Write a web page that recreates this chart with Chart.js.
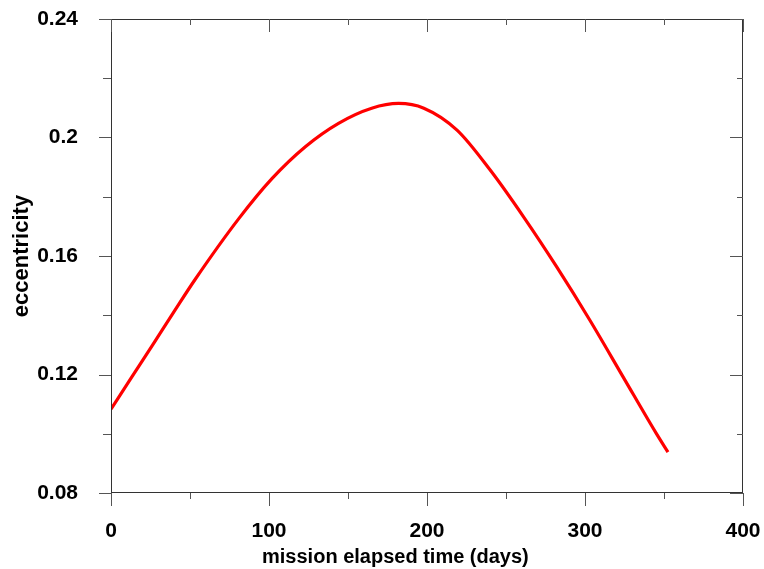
<!DOCTYPE html>
<html>
<head>
<meta charset="utf-8">
<script src="https://cdn.jsdelivr.net/npm/chart.js@4/dist/chart.umd.min.js"></script>
<style>
  body { margin: 0; background: #fff; }
  canvas { display: block; }
</style>
</head>
<body>
<canvas id="eccChart" width="764" height="569"></canvas>
<script>
// values
var missionDays = [0, 13, 27, 40, 53, 81, 102, 123, 144, 165, 182, 198, 219, 240, 261, 282, 303, 324, 345, 352.5];
var eccentricity = [0.1083, 0.119, 0.1305, 0.1413, 0.1519, 0.1727, 0.1862, 0.1969, 0.2048, 0.2099, 0.2115,
                    0.2099, 0.2025, 0.189, 0.1733, 0.1564, 0.1384, 0.1193, 0.1002, 0.0938];
var xTickLabels = ['0', '100', '200', '300', '400'];
var yTickLabels = ['0.08', '0.12', '0.16', '0.2', '0.24'];

var points = missionDays.map(function (d, i) { return { x: d, y: eccentricity[i] }; });

var fontFamily = '"Liberation Sans", Arial, sans-serif';

// frame + inward/outward tick marks drawn from the scales
var framePlugin = {
    id: 'frame',
    afterDraw: function (chart) {
        var ctx = chart.ctx;
        var a = chart.chartArea;
        var xs = chart.scales.x;
        var ys = chart.scales.y;
        ctx.save();
        ctx.strokeStyle = '#333';
        ctx.lineWidth = 1;
        ctx.strokeRect(a.left + 0.5, a.top + 0.5, a.right - a.left - 1, a.bottom - a.top - 1);
        ctx.strokeStyle = '#555';
        ctx.beginPath();
        for (var v = 0; v <= 400; v += 50) {
            var px = Math.round(xs.getPixelForValue(v)) + 0.5;
            var major = v % 100 === 0;
            ctx.moveTo(px, a.bottom);
            ctx.lineTo(px, a.bottom + (major ? 13 : 6));
            ctx.moveTo(px, a.top);
            ctx.lineTo(px, a.top + (major ? 13 : 6));
        }
        for (var k = 8; k <= 24; k += 2) {
            var py = Math.round(ys.getPixelForValue(k / 100)) + 0.5;
            var majorY = k % 4 === 0;
            ctx.moveTo(a.left, py);
            ctx.lineTo(a.left - (majorY ? 12 : 8), py);
            ctx.moveTo(a.right, py);
            ctx.lineTo(a.right - (majorY ? 13 : 6), py);
        }
        ctx.stroke();

        // x axis title
        ctx.fillStyle = '#000';
        ctx.font = 'bold 20px ' + fontFamily;
        ctx.textAlign = 'center';
        ctx.textBaseline = 'middle';
        ctx.fillText('mission elapsed time (days)', a.left + (a.right - a.left) * 0.45, 557);
        ctx.restore();
    }
};

var ctx = document.getElementById('eccChart').getContext('2d');

var myChart = new Chart(ctx, {
    type: 'line',
    data: {
        datasets: [
            {
                label: 'eccentricity',
                data: points,
                borderColor: 'rgb(255, 0, 0)',
                backgroundColor: 'rgb(255, 0, 0)',
                borderWidth: 3.2,
                pointRadius: 0,
                cubicInterpolationMode: 'monotone',
                fill: false
            }
        ]
    },
    options: {
        responsive: false,
        animation: false,
        devicePixelRatio: 1,
        layout: {
            padding: { top: 19, right: 21, left: 0, bottom: 0 }
        },
        plugins: {
            legend: { display: false },
            tooltip: { enabled: false }
        },
        scales: {
            x: {
                type: 'linear',
                min: 0,
                max: 400,
                grid: { display: false },
                border: { display: false },
                ticks: {
                    stepSize: 50,
                    autoSkip: false,
                    maxRotation: 0,
                    padding: 18,
                    color: '#000',
                    font: { family: fontFamily, size: 21, weight: 'bold' },
                    callback: function (value) {
                        var idx = xTickLabels.indexOf(String(value));
                        return idx >= 0 && value % 100 === 0 ? xTickLabels[idx] : '';
                    }
                },
                afterFit: function (scale) {
                    scale.height = 569 - 493;
                    scale.paddingLeft = 0;
                    scale.paddingRight = 0;
                }
            },
            y: {
                type: 'linear',
                min: 0.08,
                max: 0.24,
                grid: { display: false },
                border: { display: false },
                title: {
                    display: true,
                    text: 'eccentricity',
                    color: '#000',
                    font: { family: fontFamily, size: 22, weight: 'bold' },
                    padding: { top: 9, bottom: 9 }
                },
                ticks: {
                    stepSize: 0.02,
                    autoSkip: false,
                    padding: 25,
                    color: '#000',
                    font: { family: fontFamily, size: 21, weight: 'bold' },
                    callback: function (value) {
                        var h = Math.round(value * 100);
                        if (h % 4 !== 0) return '';
                        var s = String(h / 100);
                        return yTickLabels.indexOf(s) >= 0 ? s : '';
                    }
                },
                afterFit: function (scale) {
                    scale.width = 111;
                    scale.paddingTop = 0;
                    scale.paddingBottom = 0;
                }
            }
        }
    },
    plugins: [framePlugin]
});
</script>
</body>
</html>
